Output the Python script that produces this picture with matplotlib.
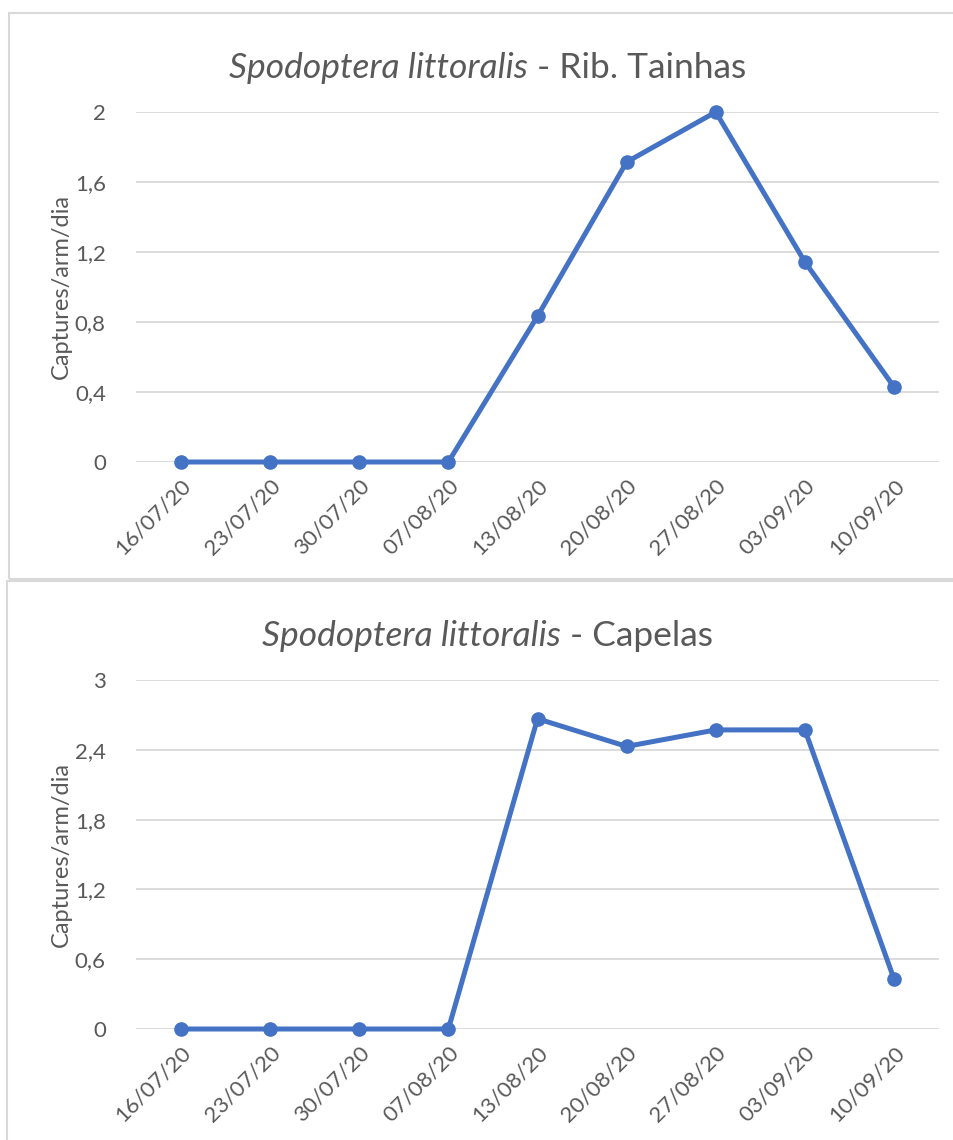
import matplotlib.pyplot as plt
from matplotlib.patches import Rectangle
from matplotlib.offsetbox import TextArea, HPacker, AnchoredOffsetbox

plt.rcParams['font.family'] = ['Lato', 'DejaVu Sans']

dates = ["16/07/20", "23/07/20", "30/07/20", "07/08/20", "13/08/20",
         "20/08/20", "27/08/20", "03/09/20", "10/09/20"]
tainhas = [0, 0, 0, 0, 0.833, 1.714, 2.0, 1.143, 0.429]
capelas = [0, 0, 0, 0, 2.667, 2.429, 2.571, 2.571, 0.429]

tainhas_ticks = [0, 0.4, 0.8, 1.2, 1.6, 2]
tainhas_labels = ["0", "0,4", "0,8", "1,2", "1,6", "2"]
capelas_ticks = [0, 0.6, 1.2, 1.8, 2.4, 3]
capelas_labels = ["0", "0,6", "1,2", "1,8", "2,4", "3"]

blue = "#4472C4"
grey_txt = "#595959"
grid_col = "#D9D9D9"

W, H = 954, 1140
fig = plt.figure(figsize=(W / 100, H / 100), dpi=100)


def px_rect(x0, y0, x1, y1):
    # pixel box (top-left origin) -> figure fraction
    return [x0 / W, 1 - y1 / H, (x1 - x0) / W, (y1 - y0) / H]


# panel frames
fig.add_artist(Rectangle((9.5 / W, 1 - 579 / H), 1.0, (579 - 13) / H,
                         transform=fig.transFigure, fill=False,
                         edgecolor=grid_col, linewidth=1.5))
fig.add_artist(Rectangle((7.5 / W, 1 - 1145 / H), 1.0, (1145 - 581) / H,
                         transform=fig.transFigure, fill=False,
                         edgecolor=grid_col, linewidth=1.5))


def draw(ax, vals, ticks, labels, place):
    x = range(len(dates))
    ax.plot(x, vals, color=blue, linewidth=3.6, marker="o", markersize=9.5,
            solid_capstyle="round", zorder=3, clip_on=False)
    ax.set_xlim(-0.5, len(dates) - 0.5)
    ax.set_ylim(0, ticks[-1])
    ax.set_yticks(ticks)
    ax.set_yticklabels(labels)
    ax.set_xticks(list(x))
    ax.set_xticklabels(dates, rotation=45, ha="right", rotation_mode="anchor")
    ax.tick_params(axis="both", length=0, labelsize=16, colors=grey_txt)
    ax.tick_params(axis="y", pad=22)
    ax.tick_params(axis="x", pad=10)
    ax.grid(axis="y", color=grid_col, linewidth=1.3)
    ax.set_axisbelow(True)
    for s in ax.spines.values():
        s.set_visible(False)
    ax.set_ylabel("Captures/arm/dia", fontsize=17, color=grey_txt, labelpad=2)
    # title: italic species name + plain site name
    a = TextArea("Spodoptera littoralis",
                 textprops=dict(fontsize=25.5, style="italic", color=grey_txt))
    b = TextArea(" - " + place,
                 textprops=dict(fontsize=25.5, color=grey_txt))
    box = HPacker(children=[a, b], align="baseline", pad=0, sep=0)
    anch = AnchoredOffsetbox(loc="lower center", child=box, pad=0, frameon=False,
                             bbox_to_anchor=(0.438, 1.08),
                             bbox_transform=ax.transAxes, borderpad=0)
    ax.add_artist(anch)


ax1 = fig.add_axes(px_rect(136.4, 112, 938.6, 462))
draw(ax1, tainhas, tainhas_ticks, tainhas_labels, "Rib. Tainhas")

ax2 = fig.add_axes(px_rect(136.4, 680, 938.6, 1029))
draw(ax2, capelas, capelas_ticks, capelas_labels, "Capelas")

fig.savefig("out.png", dpi=100)
